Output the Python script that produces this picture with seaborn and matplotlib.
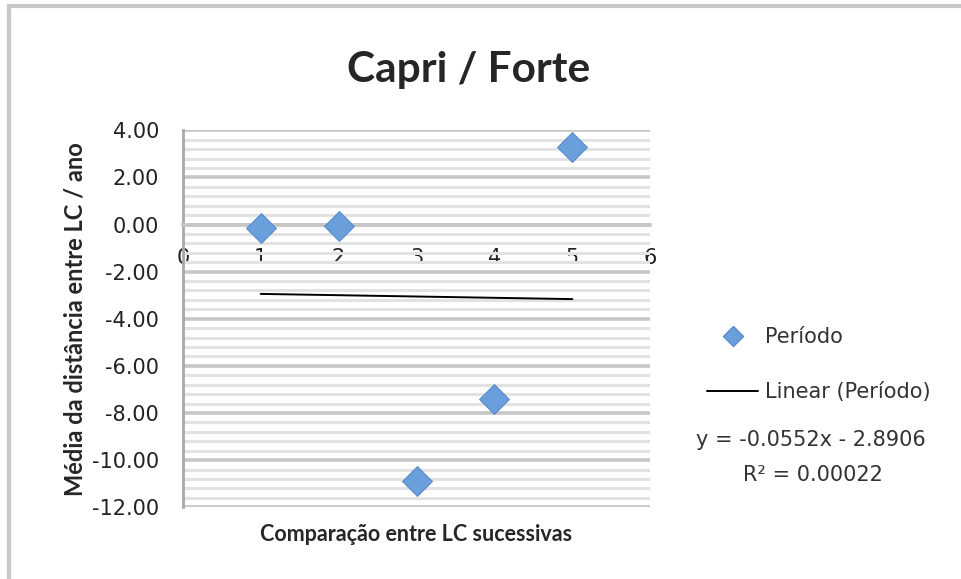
import matplotlib
matplotlib.use("Agg")
import matplotlib.pyplot as plt
import matplotlib.ticker as mticker
from matplotlib.lines import Line2D
from matplotlib.patches import Rectangle
import numpy as np
import pandas as pd
import seaborn as sns

# data
comparacao = [1, 2, 3, 4, 5]
periodo = [-0.16, -0.05, -10.9, -7.4, 3.3]
# trend line as printed on the chart
slope = -0.0552
intercept = -2.8906
r2 = 0.00022
y_ticks = [-12, -10, -8, -6, -4, -2, 0, 2, 4]
x_ticks = [0, 1, 2, 3, 4, 5, 6]

df = pd.DataFrame({"x": comparacao, "y": periodo})

sns.set_style("white")
plt.rcParams["font.family"] = ["DejaVu Sans"]
bold_font = ["Lato", "DejaVu Sans"]

fig = plt.figure(figsize=(9.62, 5.79), dpi=100)
ax = fig.add_axes([0.190, 0.124, 0.486, 0.651])

# horizontal grid, Excel style
ax.set_ylim(-12, 4)
ax.set_xlim(0, 6)
ax.yaxis.set_major_locator(mticker.FixedLocator(y_ticks))
ax.yaxis.set_minor_locator(mticker.MultipleLocator(0.4))
ax.yaxis.set_major_formatter(mticker.FormatStrFormatter("%.2f"))
ax.xaxis.set_major_locator(mticker.FixedLocator(x_ticks))
ax.grid(True, which="major", axis="y", color="#c6c6c6", lw=2.6, zorder=0)
ax.grid(True, which="minor", axis="y", color="#e2e2e2", lw=2.2, zorder=0)
ax.grid(False, axis="x")
ax.set_axisbelow(True)

# trend line
xs = np.array([comparacao[0], comparacao[-1]])
ax.plot(xs, slope * xs + intercept, color="black", lw=1.4, zorder=2,
        label="Linear (Período)")

sns.scatterplot(data=df, x="x", y="y", marker="D", s=230, color="#6a9fdb",
                edgecolor="#5a8ccb", linewidth=0.8, zorder=3, ax=ax,
                label="Período", legend=False)

# axes cross at the origin, Excel style
for side in ["top", "right"]:
    ax.spines[side].set_visible(False)
ax.spines["left"].set_position(("data", 0))
ax.spines["bottom"].set_position(("data", 0))
ax.spines["left"].set_color("#a8a8a8")
ax.spines["left"].set_linewidth(2)
ax.spines["bottom"].set_color("#c6c6c6")
ax.spines["bottom"].set_linewidth(2.6)

ax.tick_params(axis="y", which="major", length=6, width=2, color="#a8a8a8",
               pad=11, labelsize=15, labelcolor="#222222", direction="out")
ax.tick_params(axis="y", which="minor", length=0)
ax.tick_params(axis="x", length=0, pad=17, labelsize=15, labelcolor="#222222")

ax.set_xlabel("Comparação entre LC sucessivas", fontsize=15.5,
              fontweight="bold", family=bold_font)
ax.xaxis.set_label_coords(0.5, -0.045)
ax.set_ylabel("Média da distância entre LC / ano", fontsize=17,
              fontweight="bold", family=bold_font)
ax.yaxis.set_label_coords(-0.205, 0.5)

fig.text(469 / 962, 1 - 70 / 579, "Capri / Forte", fontsize=30.5,
         fontweight="bold", family=bold_font, ha="center", va="center")

handles = [
    Line2D([], [], marker="D", color="#6a9fdb", markeredgecolor="#5a8ccb",
           linestyle="none", markersize=10),
    Line2D([], [], color="black", lw=1.4),
]
fig.legend(handles, ["Período", "Linear (Período)"], loc="upper left",
           bbox_to_anchor=(707 / 962, 1 - 327 / 579), frameon=False,
           fontsize=15, handlelength=2.45, handletextpad=0.33,
           labelspacing=1.7, borderpad=0, borderaxespad=0,
           labelcolor="#333333")

fig.text(811 / 962, 1 - 440 / 579, "y = -0.0552x - 2.8906", fontsize=15,
         ha="center", va="center", color="#333333")
fig.text(813 / 962, 1 - 475 / 579, "R² = 0.00022", fontsize=15,
         ha="center", va="center", color="#333333")

# chart frame
fig.add_artist(Rectangle((9 / 962, -0.1), 1.2, 1 - 6 / 579 + 0.1,
                         transform=fig.transFigure, fill=False,
                         edgecolor="#c8c8c8", lw=3))

fig.savefig("out.png", dpi=100)
